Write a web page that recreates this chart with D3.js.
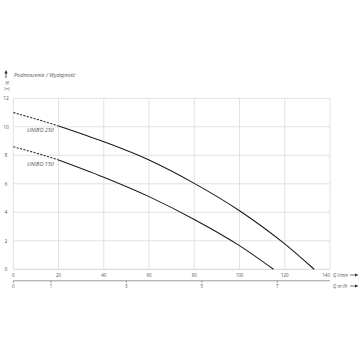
<!DOCTYPE html>
<html>
<head>
<meta charset="utf-8">
<script src="https://cdn.jsdelivr.net/npm/d3@7"></script>
<style>
  body { margin: 0; background: #fff; }
  text { font-family: "Open Sans", "DejaVu Sans", sans-serif; fill: #555; }
</style>
</head>
<body>
<svg id="chart" width="360" height="360"></svg>
<script>
// flow in l/min, head in m
const qTicks = [0, 20, 40, 60, 80, 100, 120, 140]
const hTicks = [0, 2, 4, 6, 8, 10, 12]
const m3Ticks = [0, 1, 3, 5, 7]

const unibo250 = [
  [0, 11.0], [20, 10.06], [40, 8.95], [60, 7.67], [80, 6.03], [100, 4.11], [120, 1.78], [133, 0]
]
const unibo150 = [
  [0, 8.6], [20, 7.67], [40, 6.46], [60, 5.1], [80, 3.5], [100, 1.66], [115, 0]
]
const seriesNames = ['UNIBO 250', 'UNIBO 150']
const dashedUntil = 20

const svg = d3.select('#chart')

const x = d3.scaleLinear().domain([0, 140]).range([13.3, 330])
const y = d3.scaleLinear().domain([0, 12]).range([269.3, 98.3])
// m3/h -> l/min
const xm3 = d => x(d * 1000 / 60)

// grid
svg.append('g')
  .selectAll('line')
  .data(qTicks)
  .enter().append('line')
  .attr('x1', d => x(d)).attr('x2', d => x(d))
  .attr('y1', y(12)).attr('y2', y(0))
  .attr('stroke', '#e2e2e2').attr('stroke-width', 1)

svg.append('g')
  .selectAll('line')
  .data(hTicks)
  .enter().append('line')
  .attr('x1', x(0)).attr('x2', x(140))
  .attr('y1', d => y(d)).attr('y2', d => y(d))
  .attr('stroke', d => d === 0 ? '#d4d4d4' : '#e2e2e2').attr('stroke-width', 1)

// y labels
svg.append('g')
  .selectAll('text')
  .data(hTicks)
  .enter().append('text')
  .attr('x', 6).attr('y', d => y(d) + 1.8)
  .attr('text-anchor', 'middle')
  .attr('font-size', 5)
  .text(d => d)

svg.append('text').attr('x', 7).attr('y', 85).attr('text-anchor', 'middle')
  .attr('font-size', 5).attr('font-style', 'italic').text('H')
svg.append('text').attr('x', 7).attr('y', 90).attr('text-anchor', 'middle')
  .attr('font-size', 3.5).text('[m]')

// title with up arrow
svg.append('line').attr('x1', 6).attr('x2', 6).attr('y1', 78).attr('y2', 72)
  .attr('stroke', '#333').attr('stroke-width', 0.8)
svg.append('path').attr('d', 'M4.3,73.5 L6,70 L7.7,73.5 Z').attr('fill', '#333')
svg.append('text').attr('x', 14).attr('y', 77)
  .attr('font-size', 5.5).attr('font-style', 'italic')
  .text('Podnoszenie / Wydajność')

// x labels l/min
svg.append('g')
  .selectAll('text')
  .data(qTicks)
  .enter().append('text')
  .attr('x', d => d === 140 ? x(d) : x(d)).attr('y', 276.5)
  .attr('text-anchor', d => d === 140 ? 'end' : 'middle')
  .attr('font-size', 4.5)
  .text(d => d)

// second axis m3/h
svg.append('line').attr('x1', x(0)).attr('x2', x(140))
  .attr('y1', 280.8).attr('y2', 280.8)
  .attr('stroke', '#999').attr('stroke-width', 1)
svg.append('g')
  .selectAll('line')
  .data(m3Ticks)
  .enter().append('line')
  .attr('x1', d => xm3(d)).attr('x2', d => xm3(d))
  .attr('y1', 280.8).attr('y2', 283)
  .attr('stroke', '#666').attr('stroke-width', 0.6)
svg.append('g')
  .selectAll('text')
  .data(m3Ticks)
  .enter().append('text')
  .attr('x', d => xm3(d)).attr('y', 287.5)
  .attr('text-anchor', 'middle')
  .attr('font-size', 4.5)
  .text(d => d)

// axis names with arrows
const axisNames = [['Q l/min', 276.5], ['Q m³/h', 287.5]]
axisNames.forEach(([t, yy]) => {
  svg.append('text').attr('x', 333).attr('y', yy)
    .attr('font-size', 4.5).attr('font-style', 'italic').text(t)
  svg.append('line').attr('x1', 350).attr('x2', 356).attr('y1', yy - 1.5).attr('y2', yy - 1.5)
    .attr('stroke', '#333').attr('stroke-width', 0.7)
  svg.append('path').attr('d', `M355,${yy - 3} L358.5,${yy - 1.5} L355,${yy} Z`).attr('fill', '#333')
})

// clip for the dashed start of each curve
svg.append('defs').append('clipPath').attr('id', 'dclip')
  .append('rect').attr('x', 0).attr('y', 0).attr('width', x(dashedUntil)).attr('height', 360)

// curves
const line = d3.line()
  .x(d => x(d[0])).y(d => y(d[1]))
  .curve(d3.curveMonotoneX)

;[unibo250, unibo150].forEach((data, i) => {
  const solid = data.filter(d => d[0] >= dashedUntil)
  svg.append('path').attr('d', line(data.filter(d => d[0] <= dashedUntil + 20)))
    .attr('fill', 'none').attr('stroke', '#333').attr('stroke-width', 1.1)
    .attr('stroke-dasharray', '2.2,1.3')
    .attr('clip-path', 'url(#dclip)')
  svg.append('path').attr('d', line(solid))
    .attr('fill', 'none').attr('stroke', '#1a1a1a').attr('stroke-width', 1.1)
  svg.append('text')
    .attr('x', 27).attr('y', y(data[0][1]) + 19.5)
    .attr('font-size', 5.5).attr('font-style', 'italic').attr('fill', '#666')
    .text(seriesNames[i])
})
</script>
</body>
</html>
